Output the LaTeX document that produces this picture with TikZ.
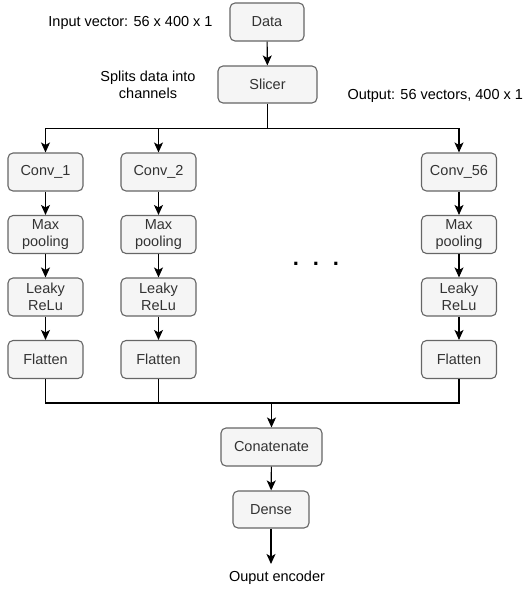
\documentclass[tikz,border=0pt]{standalone}
\usepackage{fontspec}
\setmainfont{Liberation Sans}
\usetikzlibrary{arrows.meta,calc}
\definecolor{boxfill}{HTML}{F5F5F5}
\definecolor{boxline}{HTML}{666666}
\definecolor{boxtext}{HTML}{333333}

\begin{document}
\begin{tikzpicture}[x=1pt,y=-1pt,
    every node/.style={font=\fontsize{14.5}{17.4}\selectfont},
    layer/.style={draw=boxline, fill=boxfill, text=boxtext, rounded corners=5pt, line width=1.1pt,
                  minimum width=75pt, minimum height=38pt, inner sep=0pt, align=center},
    flow/.style={line width=1.1pt, -{Stealth[length=10pt,width=9pt,inset=2.5pt]}},
    wire/.style={line width=1.1pt}]
    \useasboundingbox (0,0) rectangle (530,590);
    \node[layer, minimum width=74pt] at (267, 22) (data) {Data};
    \node[layer, minimum width=99pt, minimum height=37pt] at (267.5, 84.5) (slicer) {Slicer};
    \node[align=center] at (130.5, 23) (inlbl) {Input vector: 56 x 400 x 1};
    \node[align=center] at (148, 85) (splitlbl) {Splits data into\\channels};
    \node[anchor=west] at (344, 96) (outlbl) {Output: 56 vectors, 400 x 1};
    % column 1
    \node[layer] at (45.5, 172) (conv1) {Conv\_1};
    \node[layer] at (45.5, 234.5) (pool1) {Max\\pooling};
    \node[layer] at (45.5, 297) (relu1) {Leaky\\ReLu};
    \node[layer] at (45.5, 359.5) (flat1) {Flatten};
    % column 2
    \node[layer] at (158.5, 172) (conv2) {Conv\_2};
    \node[layer] at (158.5, 234.5) (pool2) {Max\\pooling};
    \node[layer] at (158.5, 297) (relu2) {Leaky\\ReLu};
    \node[layer] at (158.5, 359.5) (flat2) {Flatten};
    % column 56
    \node[layer] at (459, 172) (conv56) {Conv\_56};
    \node[layer] at (459, 234.5) (pool56) {Max\\pooling};
    \node[layer] at (459, 297) (relu56) {Leaky\\ReLu};
    \node[layer] at (459, 359.5) (flat56) {Flatten};
    \node[font=\fontsize{22}{22}\selectfont\bfseries] at (316, 264) (dots) {.\hspace{13.9pt}.\hspace{13.9pt}.};
    \node[layer, minimum width=101pt] at (271.5, 447) (concat) {Conatenate};
    \node[layer, minimum width=76pt, minimum height=37pt] at (271, 509.5) (dense) {Dense};
    \node at (277, 578) (enclbl) {Ouput encoder};
    \coordinate (bustop) at ($(slicer.south)+(0,25)$);
    \coordinate (busbot) at (271.5, 403);
    \coordinate (encend) at (271, 564);
	\draw[flow] (data) -- (slicer);
    \draw[flow] (slicer.south) |- (bustop) -| (conv1.north);
    \draw[flow] (bustop) -| (conv2.north);
    \draw[flow] (bustop) -| (conv56.north);
    \draw[flow] (conv1) -- (pool1);
    \draw[flow] (pool1) -- (relu1);
    \draw[flow] (relu1) -- (flat1);
    \draw[flow] (conv2) -- (pool2);
    \draw[flow] (pool2) -- (relu2);
    \draw[flow] (relu2) -- (flat2);
    \draw[flow] (conv56) -- (pool56);
    \draw[flow] (pool56) -- (relu56);
    \draw[flow] (relu56) -- (flat56);
    \draw[wire] (flat1.south) |- (busbot);
    \draw[wire] (flat2.south) |- (busbot);
    \draw[wire] (flat56.south) |- (busbot);
    \draw[flow] (busbot) -- (concat.north);
    \draw[flow] (concat) -- (dense);
    \draw[flow] (dense.south) -- (encend);
\end{tikzpicture}
\end{document}
